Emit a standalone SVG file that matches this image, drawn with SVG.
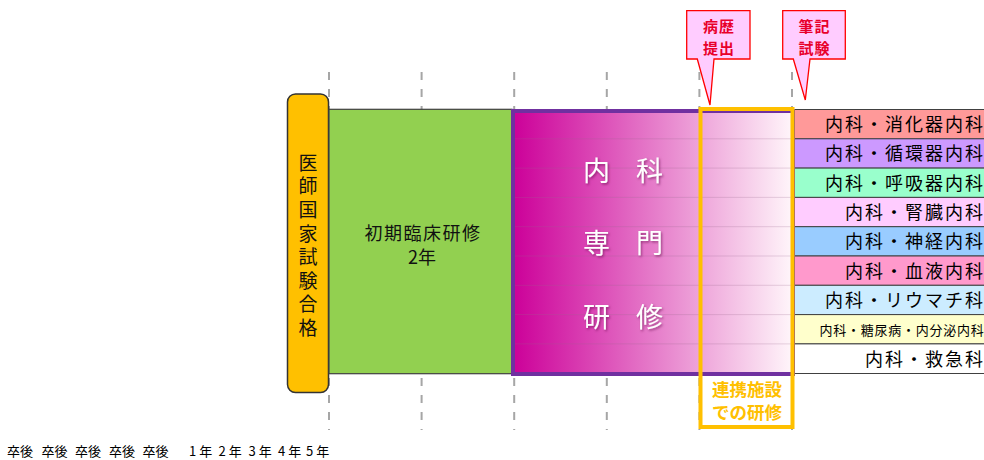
<svg xmlns="http://www.w3.org/2000/svg" width="984" height="460" viewBox="0 0 984 460">
<style>
text{font-family:"Noto Sans CJK JP","Noto Sans",sans-serif}
.dash{stroke:#A6A6A6;stroke-width:2;stroke-dasharray:8 9;fill:none}
.row{stroke:#404040;stroke-width:1}
.rt{font-size:18px;letter-spacing:2px;text-anchor:end;fill:#000}
.wt{font-size:27px;fill:#fff;text-anchor:middle;letter-spacing:10px}
.call{fill:#FFCCFF;stroke:#FF0000;stroke-width:1.3}
.ct{font-size:15px;letter-spacing:1px;fill:#E8002A;text-anchor:middle;font-weight:bold}
.faint{stroke:#9A6A90;stroke-opacity:0.25;stroke-width:1}
</style>
<defs>
<linearGradient id="g" x1="0" y1="0" x2="1" y2="0">
<stop offset="0" stop-color="#CC0099"/>
<stop offset="1" stop-color="#FFF6FA"/>
</linearGradient>
<filter id="sh" x="-20%" y="-20%" width="140%" height="140%">
<feDropShadow dx="1.2" dy="1.5" stdDeviation="0.8" flood-color="#5a0040" flood-opacity="0.55"/>
</filter>
</defs>
<g id="grid">
<line class="dash" x1="329" y1="72" x2="329" y2="430"/>
<line class="dash" x1="421.6" y1="72" x2="421.6" y2="430"/>
<line class="dash" x1="514.2" y1="72" x2="514.2" y2="430"/>
<line class="dash" x1="606.8" y1="72" x2="606.8" y2="430"/>
<line class="dash" x1="699.4" y1="72" x2="699.4" y2="430"/>
<line class="dash" x1="792" y1="72" x2="792" y2="430"/>
</g>
<g id="list">
<rect class="row" x="794" y="109.5" width="200" height="29.3" fill="#FF9999"/>
<rect class="row" x="794" y="138.8" width="200" height="29.3" fill="#CC99FF"/>
<rect class="row" x="794" y="168.1" width="200" height="29.3" fill="#99FFCC"/>
<rect class="row" x="794" y="197.4" width="200" height="29.3" fill="#FFCCFF"/>
<rect class="row" x="794" y="226.7" width="200" height="29.3" fill="#99CCFF"/>
<rect class="row" x="794" y="256" width="200" height="29.3" fill="#FF99CC"/>
<rect class="row" x="794" y="285.3" width="200" height="29.3" fill="#CCECFF"/>
<rect class="row" x="794" y="314.6" width="200" height="29.3" fill="#FFFFCC"/>
<rect class="row" x="794" y="343.9" width="200" height="29.6" fill="#FFFFFF"/>
<text class="rt" x="985" y="131">内科・消化器内科</text>
<text class="rt" x="985" y="160.3">内科・循環器内科</text>
<text class="rt" x="985" y="189.6">内科・呼吸器内科</text>
<text class="rt" x="985" y="218.9">内科・腎臓内科</text>
<text class="rt" x="985" y="248.2">内科・神経内科</text>
<text class="rt" x="985" y="277.5">内科・血液内科</text>
<text class="rt" x="985" y="306.8">内科・リウマチ科</text>
<text x="984.5" y="334.5" style="font-size:13px;letter-spacing:0.75px;text-anchor:end">内科・糖尿病・内分泌内科</text>
<text class="rt" x="985" y="365.5">内科・救急科</text>
</g>
<g id="pass">
<rect x="287.5" y="94" width="41" height="298.5" rx="8" fill="#FFC000" stroke="#333" stroke-width="1.5"/>
<text x="308" y="153" style="font-size:19px;writing-mode:vertical-rl;letter-spacing:4.6px" fill="#111">医師国家試験合格</text>
</g>
<g id="initial">
<rect x="329" y="109.3" width="183" height="264.4" fill="#92D050" stroke="#404040" stroke-width="1.2"/>
<text x="423" y="240" style="font-size:18px;text-anchor:middle;letter-spacing:1.5px" fill="#111">初期臨床研修</text>
<text x="422" y="263.5" style="font-size:18px;text-anchor:middle" fill="#111">2年</text>
</g>
<g id="specialty">
<rect x="513" y="111" width="280" height="263" fill="url(#g)" stroke="#7030A0" stroke-width="4"/>
<line class="faint" x1="515" y1="138.8" x2="792" y2="138.8"/>
<line class="faint" x1="515" y1="168.1" x2="792" y2="168.1"/>
<line class="faint" x1="515" y1="197.4" x2="792" y2="197.4"/>
<line class="faint" x1="515" y1="226.7" x2="792" y2="226.7"/>
<line class="faint" x1="515" y1="256" x2="792" y2="256"/>
<line class="faint" x1="515" y1="285.3" x2="792" y2="285.3"/>
<line class="faint" x1="515" y1="314.6" x2="792" y2="314.6"/>
<line class="faint" x1="515" y1="343.9" x2="792" y2="343.9"/>
<g filter="url(#sh)">
<text class="wt" x="628" y="181">内 科</text>
<text class="wt" x="628" y="253">専 門</text>
<text class="wt" x="628" y="327">研 修</text>
</g>
</g>
<g id="affiliate">
<rect x="700.5" y="109" width="92" height="318" fill="none" stroke="#FFC000" stroke-width="4"/>
<text x="747" y="396" style="font-size:17.5px;font-weight:bold;text-anchor:middle" fill="#FFC000">連携施設<tspan x="747" dy="23">での研修</tspan></text>
</g>
<g id="callout-history">
<path class="call" d="M686.7,10.7 H750 V59 H714 L710,105 L697.3,59 H686.7 Z"/>
<text class="ct" x="719" y="31.5">病歴<tspan x="719" dy="22">提出</tspan></text>
</g>
<g id="callout-exam">
<path class="call" d="M782.7,10.7 H845.3 V59 H810 L805.3,100 L793.3,59 H782.7 Z"/>
<text class="ct" x="814.5" y="31.5">筆記<tspan x="814.5" dy="22">試験</tspan></text>
</g>
<g id="axis">
<text style="font-size:13px" fill="#000" y="456"><tspan x="7">卒後</tspan> <tspan x="41.5">卒後</tspan> <tspan x="75">卒後</tspan> <tspan x="109">卒後</tspan> <tspan x="142.5">卒後</tspan>　<tspan x="189">1 年</tspan> <tspan x="218.5">2 年</tspan> <tspan x="248.5">3 年</tspan> <tspan x="278">4 年</tspan> <tspan x="306">5 年</tspan></text>
</g>
</svg>
